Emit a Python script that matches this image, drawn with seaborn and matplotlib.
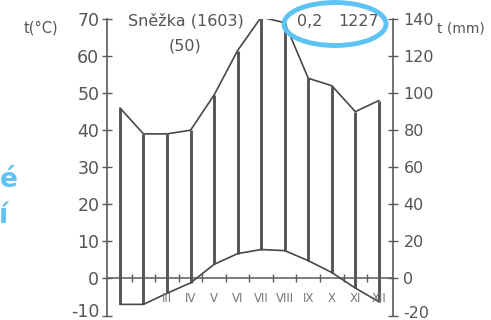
import numpy as np
import pandas as pd
import matplotlib
matplotlib.use('Agg')
import matplotlib.pyplot as plt
import matplotlib.transforms as mtransforms
import seaborn as sns
from matplotlib.patches import Ellipse

# ---- data (Walter-Lieth climate diagram, Sněžka) ----
months = ['I', 'II', 'III', 'IV', 'V', 'VI', 'VII', 'VIII', 'IX', 'X', 'XI', 'XII']
month_labels = ['', '', 'III', 'IV', 'V', 'VI', 'VII', 'VIII', 'IX', 'X', 'XI', 'XII']
temperature = [-7.0, -7.0, -4.0, -1.2, 3.8, 6.7, 7.8, 7.5, 4.8, 1.6, -2.6, -6.3]   # °C
precipitation = [92, 78, 78, 80, 99, 123, 141, 138, 108, 104, 90, 96]             # mm
temp_ticks = [-10, 0, 10, 20, 30, 40, 50, 60, 70]
precip_ticks = [-20, 0, 20, 40, 60, 80, 100, 120, 140]
station = 'Sněžka (1603)'
years = '(50)'
mean_temp = '0,2'
annual_precip = '1227'
MM_PER_DEG = 2  # diagram scale: 10 °C = 20 mm

sns.set_theme(style='white')
plt.rcParams['font.family'] = ['DejaVu Sans']
plt.rcParams['axes.unicode_minus'] = False

W, H = 491, 320
fig = plt.figure(figsize=(W / 100, H / 100), dpi=100)
fig.patch.set_facecolor('white')


def fx(x):
    return x / W


def fy(y):
    return 1 - y / H


ax = fig.add_axes([fx(107), fy(315.5), (393 - 107) / W, (315.5 - 19) / H])
ax.set_facecolor('white')

df = pd.DataFrame({'m': np.arange(len(months)),
                   'temp': temperature,
                   'prec': np.array(precipitation) / MM_PER_DEG})

grey = '#484848'
ax.vlines(df['m'], df['temp'], df['prec'], color='#555555', lw=2.1, zorder=2)
sns.lineplot(data=df, x='m', y='temp', ax=ax, color=grey, lw=1.2, sort=False, zorder=3)
sns.lineplot(data=df, x='m', y='prec', ax=ax, color=grey, lw=1.2, sort=False, zorder=3)

ax.set_xlim(-0.55, 11.6)
ax.set_ylim(-10, 70)
ax.set_xlabel('')
ax.set_ylabel('')
ax.grid(False)

axis_c = '#5a5a5a'
for s in ['top', 'right']:
    ax.spines[s].set_visible(False)
ax.spines['left'].set_color(axis_c)
ax.spines['left'].set_linewidth(1.2)
ax.spines['bottom'].set_position(('data', 0))
ax.spines['bottom'].set_color(axis_c)
ax.spines['bottom'].set_linewidth(1.1)

ax.set_xticks(np.arange(0.5, 11, 1))
ax.tick_params(axis='x', direction='inout', length=6, width=1, colors=axis_c,
               labelbottom=False, bottom=True)
ax.set_yticks(temp_ticks)
ax.tick_params(axis='y', direction='inout', length=7, width=1, colors=axis_c,
               labelsize=12.5, pad=2, left=True)
for t in ax.get_yticklabels():
    t.set_color('#555555')

for i, lab in enumerate(month_labels):
    ax.text(i, -5.5, lab, ha='center', va='center', fontsize=8.5, color='#777777')

ax2 = ax.twinx()
ax2.set_ylim(-20, 140)
ax2.set_yticks(precip_ticks)
for s in ['top', 'left', 'bottom']:
    ax2.spines[s].set_visible(False)
ax2.spines['right'].set_color(axis_c)
ax2.spines['right'].set_linewidth(1.2)
ax2.tick_params(axis='y', direction='inout', length=7, width=1, colors=axis_c,
                labelsize=11.5, pad=4, right=True)
for t in ax2.get_yticklabels():
    t.set_color('#555555')
ax2.grid(False)

# lift the lowest tick labels a little so they stay inside the canvas
for axis, dy in ((ax, 5.5), (ax2, 4)):
    lift = mtransforms.ScaledTranslation(0, dy / 100, fig.dpi_scale_trans)
    tick0 = axis.yaxis.get_major_ticks()[0]
    for lbl in (tick0.label1, tick0.label2):
        lbl.set_transform(lbl.get_transform() + lift)

txt_c = '#555555'
fig.text(fx(41), fy(28), 't(°C)', ha='center', va='center', fontsize=10.5, color=txt_c)
fig.text(fx(437), fy(29), 't (mm)', ha='left', va='center', fontsize=10, color=txt_c)
fig.text(fx(186), fy(21), station, ha='center', va='center', fontsize=11.5, color=txt_c)
fig.text(fx(185), fy(46), years, ha='center', va='center', fontsize=11.5, color=txt_c)
fig.text(fx(310), fy(22), mean_temp, ha='center', va='center', fontsize=11.5, color=txt_c)
fig.text(fx(359), fy(22), annual_precip, ha='center', va='center', fontsize=11.5, color=txt_c)

cyan = '#5cc3f3'
ell = Ellipse((fx(335), fy(24)), width=102 / W, height=43 / H, transform=fig.transFigure,
              fill=False, edgecolor=cyan, lw=3.5, zorder=10)
fig.add_artist(ell)
fig.text(fx(18), fy(187), 'é', ha='right', va='baseline', fontsize=19,
         fontweight='bold', color=cyan)
fig.text(fx(8), fy(223), 'í', ha='right', va='baseline', fontsize=19,
         fontweight='bold', color=cyan)

fig.savefig('out.png', dpi=100, facecolor='white')
